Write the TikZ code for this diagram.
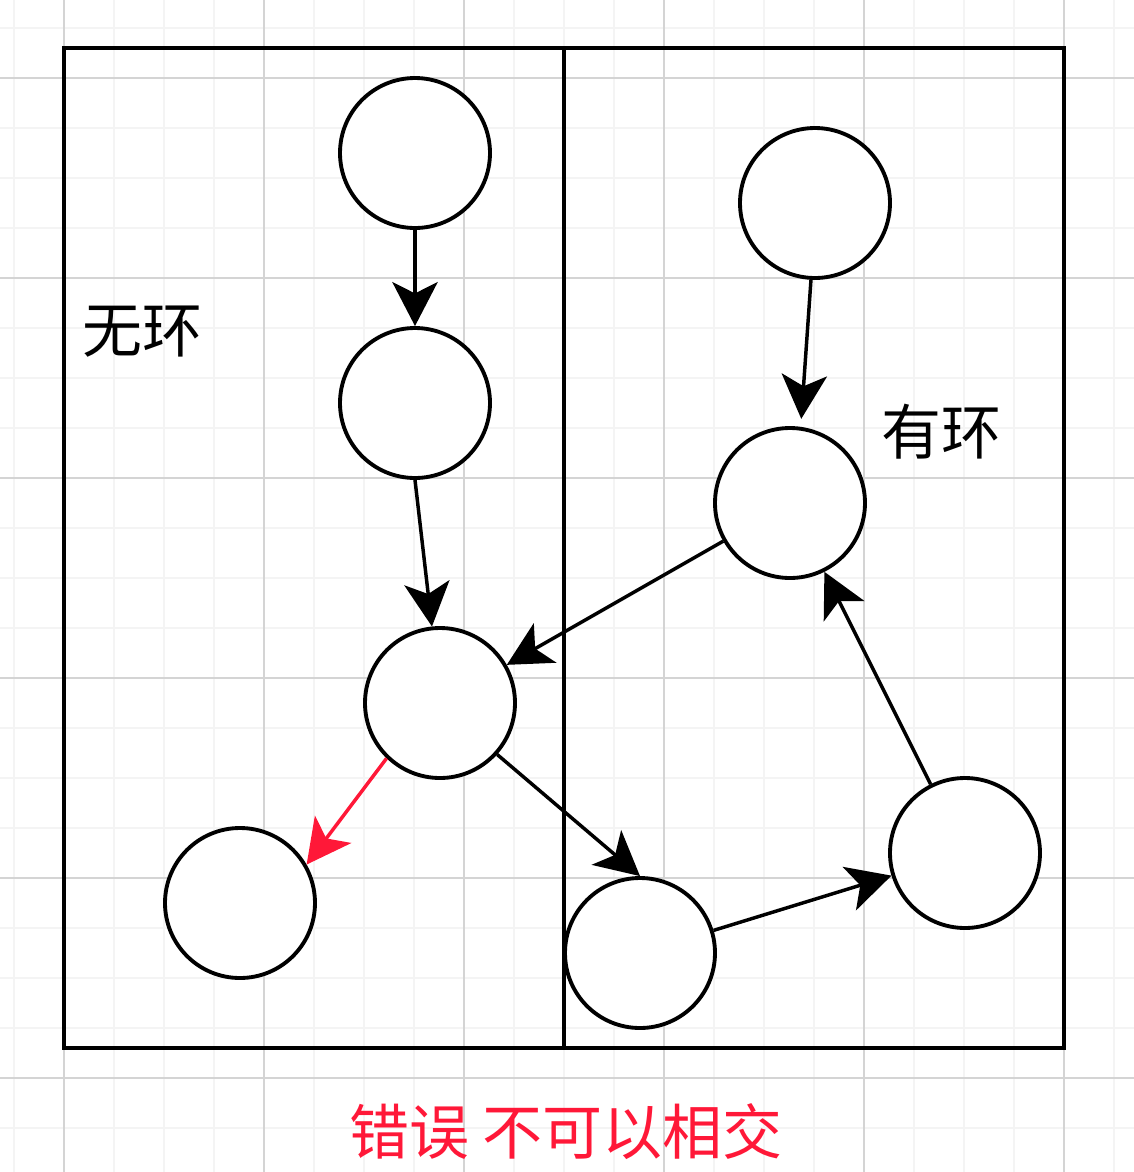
\documentclass[tikz,border=0pt]{standalone}
\usepackage{fontspec}
\newfontfamily\cjk{Noto Sans CJK SC}
\usetikzlibrary{arrows.meta}
\definecolor{minorgrid}{HTML}{F4F4F4}
\definecolor{majorgrid}{HTML}{D4D4D4}
\definecolor{errred}{RGB}{255,24,56}
\tikzset{
  vnode/.style={circle, draw=black, fill=white, line width=2.9pt, minimum size=112.5pt, inner sep=0pt},
  edge/.style={line width=2.6pt, -{Stealth[length=33pt, width=34pt, inset=8.5pt]}},
  redge/.style={edge, draw=errred, -{Stealth[length=33pt, width=34pt, inset=8.5pt, fill=errred]}},
  frame/.style={draw=black, line width=3.2pt},
  lbl/.style={inner sep=0pt, font=\cjk\fontsize{45}{52}\selectfont}
}
\begin{document}
\begin{tikzpicture}[x=0.75pt, y=-0.75pt]
\useasboundingbox (0,0) rectangle (1134,1172);
\fill[white] (0,0) rectangle (1134,1172);
% grid
\foreach \gx in {14,64,...,1134} \draw[minorgrid, line width=0.9pt] (\gx,0) -- (\gx,1172);
\foreach \gy in {28,78,...,1172} \draw[minorgrid, line width=0.9pt] (0,\gy) -- (1134,\gy);
\foreach \gx in {64,264,...,1134} \draw[majorgrid, line width=0.9pt] (\gx,0) -- (\gx,1172);
\foreach \gy in {78,278,...,1172} \draw[majorgrid, line width=0.9pt] (0,\gy) -- (1134,\gy);
% frames
\draw[frame] (64,48) rectangle (564,1048);
\draw[frame] (564,48) rectangle (1064,1048);
% nodes
\node[vnode] (A) at (415,153) {};
\node[vnode] (B) at (415,403) {};
\node[vnode] (C) at (440,703) {};
\node[vnode] (D) at (240,903) {};
\node[vnode] (E) at (815,203) {};
\node[vnode] (F) at (790,503) {};
\node[vnode] (G) at (640,953) {};
\node[vnode] (H) at (965,853) {};
% edges
\draw[edge] (A.south) -- (B.north);
\draw[edge] (B.south) -- (C.96);
\draw[redge] (C.226) -- (D.30);
\draw[edge] (C.-42) -- (G.north);
\draw[edge] (F) -- (C);
\draw[edge, shorten >=6pt] (E.-93) -- (F.82);
\draw[edge] (G) -- (H);
\draw[edge] (H) -- (F);
% labels
\node[lbl] (l1) at (142,332) {无环};
\node[lbl] (l2) at (941,432) {有环};
\node[lbl, text=errred] (l3) at (566,1132) {错误 不可以相交};
\end{tikzpicture}
\end{document}
